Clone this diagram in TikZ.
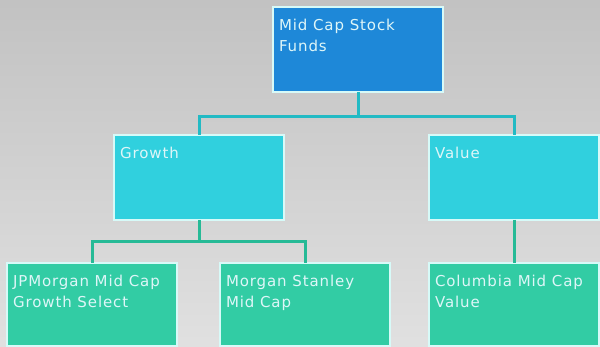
\documentclass[tikz,border=0pt]{standalone}
\usepackage{fontspec}
\newfontfamily\boxfont[LetterSpace=6]{DejaVu Sans}
\usetikzlibrary{positioning}

\definecolor{topblue}{RGB}{30,136,216}
\definecolor{midcyan}{RGB}{48,208,222}
\definecolor{lowgreen}{RGB}{50,204,164}
\definecolor{upline}{RGB}{34,186,196}
\definecolor{lowline}{RGB}{38,186,150}
\definecolor{rim}{RGB}{215,250,248}
\definecolor{txt}{RGB}{222,246,248}

\tikzset{
    fund/.style={rectangle, draw=rim, line width=1.5pt, minimum width=170pt,
        minimum height=85pt, inner sep=0pt, outer sep=0pt},
    caption/.style={anchor=north west, inner xsep=6pt, inner ysep=12pt,
        outer sep=0pt, align=left, text=txt,
        font=\boxfont\fontsize{15}{21}\selectfont},
    upper/.style={draw=upline, line width=3pt},
    lower/.style={draw=lowline, line width=3pt}
}

\begin{document}
\begin{tikzpicture}[x=1pt, y=1pt]
        \useasboundingbox (0,0) rectangle (600,347);
        \shade[top color=gray!48, bottom color=gray!24] (0,0) rectangle (600,347);

        \node[fund, fill=topblue, label={[caption]north west:{Mid Cap Stock\\Funds}}] (midcap) at (358, 297.5) {};
        \node[fund, fill=midcyan, label={[caption]north west:{Growth}}] (growth) at (199, 169.5) {};
        \node[fund, fill=midcyan, label={[caption]north west:{Value}}] (value) at (514, 169.5) {};
        \node[fund, fill=lowgreen, minimum height=83pt, label={[caption]north west:{JPMorgan Mid Cap\\Growth Select}}] (jpmorgan) at (92, 42.5) {};
        \node[fund, fill=lowgreen, minimum height=83pt, label={[caption]north west:{Morgan Stanley\\Mid Cap}}] (mstanley) at (305, 42.5) {};
        \node[fund, fill=lowgreen, minimum height=83pt, label={[caption]north west:{Columbia Mid Cap\\Value}}] (columbia) at (514, 42.5) {};

        \draw[upper] (midcap.south) -- ++(0,-25) -| (growth.north)
            (midcap.south) -- ++(0,-25) -| (value.north);
        \draw[lower] (growth.south) -- ++(0,-22) -| (jpmorgan.north)
            (growth.south) -- ++(0,-22) -| (mstanley.north)
            (value.south) to (columbia.north);
    \end{tikzpicture}
\end{document}
